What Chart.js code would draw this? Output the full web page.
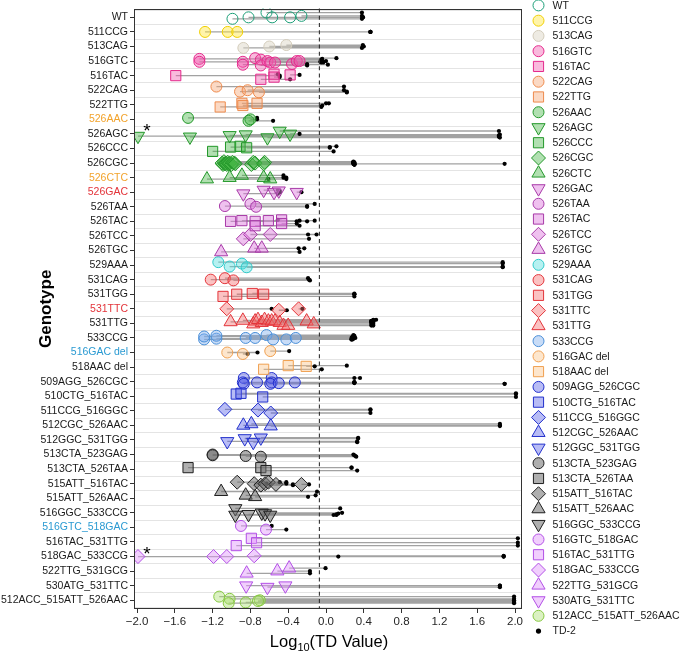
<!DOCTYPE html>
<html><head><meta charset="utf-8">
<script src="https://cdn.jsdelivr.net/npm/chart.js@4/dist/chart.umd.min.js"></script>
<style>html,body{margin:0;padding:0;background:#fff;}canvas{display:block;}</style>
</head><body>
<canvas id="c" width="680" height="656" style="width:680px;height:656px"></canvas>
<script>
// ---------------- DATA ----------------
const genotypes = ['WT','511CCG','513CAG','516GTC','516TAC','522CAG','522TTG','526AAC','526AGC','526CCC','526CGC','526CTC','526GAC','526TAA','526TAC','526TCC','526TGC','529AAA','531CAG','531TGG','531TTC','531TTG','533CCG','516GAC del','518AAC del','509AGG_526CGC','510CTG_516TAC','511CCG_516GGC','512CGC_526AAC','512GGC_531TGG','513CTA_523GAG','513CTA_526TAA','515ATT_516TAC','515ATT_526AAC','516GGC_533CCG','516GTC_518GAC','516TAC_531TTG','518GAC_533CCG','522TTG_531GCG','530ATG_531TTC','512ACC_515ATT_526AAC'];

// log10 TD value of each isolate (coloured marker)
const markerX = [
 [-0.99,-0.82,-0.63,-0.57,-0.38,-0.26],
 [-1.28,-1.04,-0.94],
 [-0.875,-0.60,-0.42],
 [-1.34,-1.34,-0.88,-0.88,-0.75,-0.69,-0.69,-0.62,-0.59,-0.54,-0.36,-0.31,-0.28],
 [-1.59,-0.69,-0.55,-0.55,-0.38],
 [-1.16,-0.91,-0.83,-0.71],
 [-1.12,-0.89,-0.88,-0.73],
 [-1.46,-0.82,-0.80],
 [-1.99,-1.44,-1.02,-0.85,-0.62,-0.49,-0.38],
 [-1.20,-1.01,-0.91,-0.84],
 [-1.10,-1.09,-1.08,-1.07,-1.06,-1.05,-1.04,-1.03,-1.02,-1.00,-0.99,-0.97,-0.96,-0.79,-0.77,-0.75,-0.65,-0.66],
 [-1.26,-1.02,-0.89,-0.66,-0.59],
 [-0.875,-0.66,-0.55,-0.50,-0.31],
 [-1.07,-0.80,-0.74],
 [-1.01,-0.89,-0.75,-0.75,-0.61,-0.47,-0.47],
 [-0.875,-0.80,-0.59],
 [-1.11,-0.76,-0.68],
 [-1.14,-1.02,-0.89,-0.84],
 [-1.22,-1.07,-0.98],
 [-1.09,-0.945,-0.78,-0.66],
 [-1.05,-0.50,-0.29],
 [-1.01,-0.88,-0.77,-0.75,-0.72,-0.68,-0.65,-0.61,-0.575,-0.54,-0.49,-0.45,-0.40,-0.205,-0.13],
 [-1.29,-1.29,-1.16,-1.16,-0.85,-0.75,-0.63,-0.56,-0.42,-0.32],
 [-1.045,-0.88,-0.59],
 [-0.66,-0.40,-0.21],
 [-0.87,-0.88,-0.87,-0.73,-0.575,-0.575,-0.59,-0.50,-0.33],
 [-0.95,-0.90,-0.67],
 [-1.07,-0.72,-0.585],
 [-0.875,-0.79,-0.585],
 [-1.045,-0.86,-0.77,-0.69],
 [-1.20,-1.20,-0.85,-0.69],
 [-1.46,-0.69,-0.635],
 [-0.94,-0.76,-0.69,-0.645,-0.61,-0.53,-0.26],
 [-1.11,-0.85,-0.75],
 [-0.96,-0.96,-0.82,-0.68,-0.645,-0.59],
 [-0.90,-0.635],
 [-0.79,-0.735,-0.95],
 [-1.99,-1.19,-1.05,-0.76],
 [-0.84,-0.515,-0.39],
 [-0.845,-0.62,-0.43],
 [-1.13,-1.02,-1.03,-0.85,-0.70,-0.72]
];

// paired log10 TD-2 value (black dot)
const td2X = [
 [0.38,0.39,0.38,0.39,0.39,0.38],
 [0.47,0.47,0.47],
 [0.38,0.40,0.39],
 [-0.04,-0.03,-0.06,0.02,0.11,-0.05,-0.20,-0.04,-0.03,-0.05,-0.20,0.0,-0.04],
 [-0.49,-0.38,-0.51,-0.49,-0.28],
 [0.19,0.22,0.19,0.22],
 [-0.05,0.0,-0.04,0.03],
 [-0.73,-0.56,-0.73],
 [1.83,1.83,1.83,1.84,1.84,1.83,-0.28],
 [0.08,0.04,0.11,0.04],
 [0.29,0.30,0.29,0.30,0.29,0.30,0.29,0.30,0.29,0.30,0.29,0.30,1.89,0.30,0.29,0.29,0.30,0.29],
 [-0.61,-0.45,-0.45,-0.42,-0.42],
 [-0.51,-0.51,-0.49,-0.49,-0.26],
 [-0.20,-0.12,-0.20],
 [-0.31,-0.28,-0.20,-0.28,-0.12,-0.51,-0.31],
 [-0.18,-0.19,-0.10],
 [-0.28,-0.29,-0.23],
 [1.87,1.87,1.87,1.87],
 [-0.18,-0.19,-0.17],
 [0.30,0.30,0.30,0.30],
 [-0.575,-0.415,-0.25],
 [0.48,0.50,0.48,0.50,0.53,0.48,0.50,0.48,0.50,0.48,0.50,0.48,0.50,0.48,0.50],
 [0.27,0.28,0.29,0.30,0.31,0.27,0.29,0.27,0.28,0.29],
 [-0.725,-0.83,-0.39],
 [-0.045,0.22,-0.12],
 [0.30,0.30,1.89,0.30,0.36,0.30,1.89,0.30,0.30],
 [2.01,2.01,2.01],
 [0.47,0.47,0.47],
 [1.84,1.84,1.84],
 [0.33,0.34,0.33,0.34],
 [0.29,0.30,0.31,0.32],
 [0.27,0.27,0.33],
 [-0.49,-0.42,-0.35,-0.63,-0.42,-0.35,-0.18],
 [-0.095,-0.11,-0.19],
 [0.15,0.08,0.11,0.17,0.13,0.11],
 [-0.575,-0.42],
 [2.03,2.03,2.03],
 [1.88,1.88,0.13,1.88],
 [-0.17,-0.17,-0.005],
 [1.84,1.84,1.84],
 [1.99,1.99,1.99,1.99,1.99,1.99]
];

// vertical jitter of each pair within its row (row units)
const rowOffset = [
 [0.1,0,-0.33,0,0,-0.1],
 [0,0,0],
 [0.1,0,-0.1],
 [-0.15,0.05,0.05,0.25,-0.2,-0.1,0.3,0,0.1,0.1,0.2,0,0],
 [0,0.25,-0.1,0.1,-0.05],
 [-0.25,0.1,0,0.15],
 [0.15,-0.1,0.05,-0.1],
 [-0.1,0.1,0],
 [0.15,0.2,0.1,0.05,0.25,-0.2,0],
 [0.2,-0.1,-0.15,-0.05],
 [0,0.1,-0.1,0.05,0,0.1,-0.05,0.05,0,0.1,-0.05,0,0.05,0.1,-0.05,0,-0.05,0.05],
 [0.1,0,-0.15,0,0.1],
 [0.1,-0.15,0,-0.1,0],
 [-0.05,-0.2,0],
 [0,-0.05,0,0.3,-0.05,-0.1,0.15],
 [0.2,-0.1,-0.1],
 [0.1,-0.15,-0.15],
 [-0.2,0.1,-0.1,0.15],
 [0,-0.1,0.05],
 [0.15,0,-0.05,0],
 [0,0.1,0],
 [-0.1,-0.2,0.05,-0.15,-0.25,-0.05,-0.25,-0.15,-0.15,-0.15,-0.05,0.15,0.15,-0.15,0.05],
 [0.1,-0.1,0.05,-0.15,0,0,-0.2,0.1,0.1,0],
 [0,0.1,-0.1],
 [0.15,-0.1,-0.05],
 [-0.25,0.05,0.15,0.05,-0.25,0.05,0.15,0.1,0.05],
 [-0.15,-0.2,0.05],
 [-0.1,-0.05,0.15],
 [0,-0.1,0.05],
 [0.1,-0.1,0.15,-0.15],
 [0,0.05,0.1,0.15],
 [-0.1,-0.1,0.1],
 [-0.1,0,0.1,0,-0.1,0.05,0.05],
 [-0.45,-0.2,-0.1],
 [-0.3,0.15,0.1,0,0.05,0.15],
 [-0.1,0.15],
 [-0.25,0.05,0.25],
 [0,0,0,-0.05],
 [0.15,0,-0.2],
 [0,0.1,0],
 [-0.25,-0.1,0.2,0.15,0,0.05]
];

const xTicks = [-2.0,-1.6,-1.2,-0.8,-0.4,0.0,0.4,0.8,1.2,1.6,2.0];
const cutoff = -0.07;
const starred = ['526AGC','518GAC_533CCG'];
const td2Label = 'TD-2';

// ---------------- STYLES ----------------
const shapeOf = ['circle','circle','circle','circle','square','circle','square','circle','triDown','square','diamond','triUp','triDown','circle','square','diamond','triUp','circle','circle','square','diamond','triUp','circle','circle','square','circle','square','diamond','triUp','triDown','circle','square','diamond','triUp','triDown','circle','square','diamond','triUp','triDown','circle'];
const groupOf = ['wt','yellow','beige','pink','pink','orange','orange','green','green','green','green','green','purple','purple','purple','purple','purple','cyan','red','red','red','red','lblue','lorange','lorange','blue','blue','blue','blue','blue','gray','gray','gray','gray','gray','violet','violet','violet','violet','violet','lgreen'];
const palette = {
  wt:['#1b9e77','rgba(0,0,0,0)'],
  yellow:['#f0cf00','rgba(255,228,50,0.42)'],
  beige:['#d3ccbb','rgba(222,216,200,0.5)'],
  pink:['#e5298c','rgba(240,90,175,0.42)'],
  orange:['#ee8a4c','rgba(246,165,115,0.42)'],
  green:['#23982a','rgba(70,180,70,0.42)'],
  purple:['#a83aa8','rgba(222,125,222,0.48)'],
  cyan:['#2ecaca','rgba(80,222,222,0.42)'],
  red:['#e3343a','rgba(245,110,110,0.42)'],
  lblue:['#4a8fd8','rgba(125,172,236,0.42)'],
  lorange:['#f0a050','rgba(250,195,135,0.42)'],
  blue:['#2230cc','rgba(85,95,232,0.42)'],
  gray:['#1f1f1f','rgba(110,110,110,0.55)'],
  violet:['#b24fe6','rgba(225,150,250,0.46)'],
  lgreen:['#86c840','rgba(170,222,110,0.42)']
};
const shapeSpec = {
  circle:{style:'circle',rot:0,r:5.5},
  square:{style:'rect',rot:0,r:7.2},
  diamond:{style:'rectRot',rot:0,r:7},
  triUp:{style:'triangle',rot:0,r:7.6},
  triDown:{style:'triangle',rot:180,r:7.6}
};
const labelColor = {'526AAC':'#f2a32c','526CTC':'#f2a32c','526GAC':'#e3343a','531TTC':'#e3343a','516GAC del':'#2a9ad2','516GTC_518GAC':'#2a9ad2'};
const FONT = "'Liberation Sans', Arial, Helvetica, sans-serif";
Chart.defaults.font.family = FONT;

// ---------------- DATASETS ----------------
const lineData = [], td2Data = [];
genotypes.forEach((g,i)=>{
  markerX[i].forEach((mx,j)=>{
    const y = i + rowOffset[i][j];
    lineData.push({x:mx,y:y},{x:td2X[i][j],y:y},{x:null,y:null});
    td2Data.push({x:td2X[i][j],y:y});
  });
});
const datasets = [{
  type:'line', label:'segments', data:lineData, borderColor:'rgba(70,70,70,0.5)', borderWidth:1.3,
  pointRadius:0, spanGaps:false, tension:0, order:3, clip:0
},{
  type:'scatter', label:td2Label, data:td2Data, pointRadius:2.1, pointBackgroundColor:'#000', pointBorderColor:'#000',
  pointBorderWidth:0, order:2, clip:0
}];
genotypes.forEach((g,i)=>{
  const sp = shapeSpec[shapeOf[i]], col = palette[groupOf[i]];
  datasets.push({
    type:'scatter', label:g,
    data: markerX[i].map((mx,j)=>({x:mx, y:i+rowOffset[i][j]})),
    pointStyle: sp.style, pointRotation: sp.rot, pointRadius: sp.r,
    pointBackgroundColor: col[1], pointBorderColor: col[0], pointBorderWidth: 1,
    order:1, clip:0
  });
});

// ---------------- helpers ----------------
function drawShape(ctx, shape, x, y, r){
  ctx.beginPath();
  if (shape==='circle'){ ctx.arc(x,y,r,0,Math.PI*2); }
  else if (shape==='square'){ const s=r*Math.SQRT1_2; ctx.rect(x-s,y-s,2*s,2*s); }
  else if (shape==='diamond'){ ctx.moveTo(x,y-r); ctx.lineTo(x+r,y); ctx.lineTo(x,y+r); ctx.lineTo(x-r,y); ctx.closePath(); }
  else { const rot = shape==='triDown'?Math.PI:0; let a=rot;
    ctx.moveTo(x+Math.sin(a)*r, y-Math.cos(a)*r); a+=2*Math.PI/3;
    ctx.lineTo(x+Math.sin(a)*r, y-Math.cos(a)*r); a+=2*Math.PI/3;
    ctx.lineTo(x+Math.sin(a)*r, y-Math.cos(a)*r); ctx.closePath(); }
  ctx.fill(); ctx.stroke();
}
const isRow = v => Math.abs(v - Math.round(v)) < 1e-6;

const decor = {
  id:'decor',
  afterDatasetsDraw(chart){
    const {ctx, chartArea:a, scales:{x,y}} = chart;
    ctx.save();
    const cx = x.getPixelForValue(cutoff);
    ctx.strokeStyle='#333'; ctx.lineWidth=1.1; ctx.setLineDash([4,3.2]);
    ctx.beginPath(); ctx.moveTo(cx,a.top); ctx.lineTo(cx,a.bottom); ctx.stroke();
    ctx.setLineDash([]);
    ctx.strokeStyle='#333'; ctx.lineWidth=1;
    ctx.strokeRect(Math.round(a.left)+0.5, Math.round(a.top)+0.5, Math.round(a.right-a.left)-1, Math.round(a.bottom-a.top)-1);
    ctx.fillStyle='#000'; ctx.font='19px '+FONT; ctx.textAlign='center'; ctx.textBaseline='alphabetic';
    starred.forEach(g=>{
      const i = genotypes.indexOf(g);
      ctx.fillText('*', x.getPixelForValue(-1.895), y.getPixelForValue(i)+3);
    });
    ctx.restore();
  },
  afterDraw(chart){
    const {ctx, chartArea:a} = chart;
    ctx.save();
    const lx = 538.5, tx = 552.5, ly0 = 5.4, step = 15.26;
    ctx.font = '10.5px '+FONT; ctx.textBaseline='middle'; ctx.textAlign='left';
    genotypes.forEach((g,i)=>{
      const yy = ly0 + i*step, sp = shapeSpec[shapeOf[i]], col = palette[groupOf[i]];
      ctx.fillStyle = col[1]; ctx.strokeStyle = col[0]; ctx.lineWidth = 1;
      drawShape(ctx, shapeOf[i], lx, yy, sp.r);
      ctx.fillStyle = '#1a1a1a'; ctx.fillText(g, tx, yy+0.5);
    });
    const yt = ly0 + genotypes.length*step;
    ctx.fillStyle='#000'; ctx.beginPath(); ctx.arc(lx, yt, 2.6, 0, Math.PI*2); ctx.fill();
    ctx.fillStyle='#1a1a1a'; ctx.fillText(td2Label, tx, yt+0.5);
    const f1 = '16.5px '+FONT, f2 = '11px '+FONT;
    ctx.textBaseline='alphabetic';
    ctx.font=f1; const w1 = ctx.measureText('Log').width, w3 = ctx.measureText('(TD Value)').width;
    ctx.font=f2; const w2 = ctx.measureText('10').width;
    const cxT = (a.left+a.right)/2 + 1, by = 647;
    let sx = cxT - (w1+w2+w3)/2;
    ctx.fillStyle='#000';
    ctx.font=f1; ctx.fillText('Log', sx, by); sx+=w1;
    ctx.font=f2; ctx.fillText('10', sx, by+4); sx+=w2;
    ctx.font=f1; ctx.fillText('(TD Value)', sx, by);
    ctx.translate(46, (a.top+a.bottom)/2);
    ctx.rotate(-Math.PI/2);
    ctx.font='bold 17px '+FONT; ctx.textAlign='center'; ctx.textBaseline='middle';
    ctx.fillText('Genotype', 0, 0);
    ctx.restore();
  }
};

new Chart(document.getElementById('c'), {
  type:'scatter',
  data:{datasets},
  plugins:[decor],
  options:{
    responsive:false, animation:false, devicePixelRatio:1,
    layout:{padding:{top:5,right:158,bottom:0,left:0}},
    plugins:{legend:{display:false}, tooltip:{enabled:false}},
    events:[],
    scales:{
      x:{
        type:'linear', position:'bottom', min:-2.032, max:2.074,
        afterBuildTicks: s => { s.ticks = xTicks.map(v=>({value:v})); },
        afterFit: s => { s.height = 47; },
        ticks:{ autoSkip:false, maxRotation:0, padding:2, color:'#262626', font:{size:11.5},
          callback: v => v.toFixed(1).replace('-','\u2212') },
        grid:{ drawOnChartArea:false, drawTicks:true, tickLength:4, color:'#333', lineWidth:1 },
        border:{ display:false }
      },
      y:{
        type:'linear', reverse:true, min:-0.6, max:40.6,
        afterBuildTicks: s => { const t=[]; for(let k=-1;k<=81;k++){ t.push({value:k/2}); } s.ticks = t; },
        afterFit: s => { s.width = 134; },
        ticks:{ autoSkip:false, padding:2, font:{size:10.5},
          color: c => { const v=c.tick.value; return isRow(v) ? (labelColor[genotypes[Math.round(v)]]||'#1a1a1a') : 'rgba(0,0,0,0)'; },
          callback: v => isRow(v) ? genotypes[Math.round(v)] : '' },
        grid:{ drawOnChartArea:true, drawTicks:true, tickLength:4, lineWidth:1,
          color: c => (c.tick && !isRow(c.tick.value)) ? '#e4e4e4' : 'rgba(0,0,0,0)',
          tickColor: c => (c.tick && isRow(c.tick.value)) ? '#333' : 'rgba(0,0,0,0)' },
        border:{ display:false }
      }
    }
  }
});
</script>
</body></html>
